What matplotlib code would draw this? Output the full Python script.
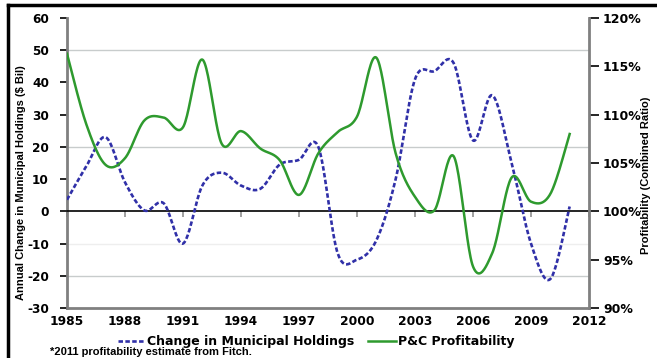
import matplotlib
matplotlib.use('Agg')
import matplotlib.pyplot as plt
import numpy as np
from matplotlib.lines import Line2D

plt.rcParams['font.family'] = ['DejaVu Sans']
plt.rcParams['font.weight'] = 'bold'

# data
years = list(range(1985, 2012))
muni_change = [3.6, 14, 23, 9, 0.3, 2.5, -10, 8, 12, 8, 7, 14.5, 16, 20,
               -13, -15, -9, 10, 41, 43.5, 46, 22, 36, 15, -10, -21, 1.5]
pc_profit = [116.3, 109, 104.8, 105.5, 109.4, 109.7, 108.7, 115.7, 107, 108.3,
             106.5, 105.3, 101.7, 106, 108.2, 109.8, 115.9, 106, 101.5, 100.1,
             105.7, 94.3, 95.7, 103.5, 101, 101.8, 108]
year_ticks = list(range(1985, 2013, 3))
left_ticks = list(range(-30, 61, 10))
right_ticks = list(range(90, 121, 5))
grid_levels = [50, 20, -20]


def smooth(x, y, n=24):
    # catmull-rom, like the excel "smoothed line"
    x = np.asarray(x, float)
    y = np.asarray(y, float)
    px = np.concatenate([[x[0]], x, [x[-1]]])
    py = np.concatenate([[y[0]], y, [y[-1]]])
    t = np.linspace(0, 1, n, endpoint=False)
    xs, ys = [], []
    for i in range(1, len(px) - 2):
        for p, out in ((px, xs), (py, ys)):
            p0, p1, p2, p3 = p[i-1], p[i], p[i+1], p[i+2]
            out.append(0.5 * (2*p1 + (-p0 + p2)*t + (2*p0 - 5*p1 + 4*p2 - p3)*t**2
                              + (-p0 + 3*p1 - 3*p2 + p3)*t**3))
    xs.append([x[-1]])
    ys.append([y[-1]])
    return np.concatenate(xs), np.concatenate(ys)


narrow = {'family': 'Liberation Sans', 'weight': 'bold', 'size': 8}

fig = plt.figure(figsize=(6.57, 3.58), dpi=100)
ax = fig.add_axes([67/657, 1-308/358, (589-67)/657, 290/358])

for g in grid_levels:
    ax.axhline(g, color='#c8cccc', lw=1, zorder=0)
ax.axhline(-10, color='#eeeeee', lw=1, zorder=0)

bx, by = smooth(years, muni_change)
blue, = ax.plot(bx, by, color='#3030a8', lw=1.9, ls=(0, (1.7, 0.9)), zorder=3)

ax.set_xlim(1985, 2012)
ax.set_ylim(-30, 60)
ax.set_yticks(left_ticks)
ax.set_yticklabels([str(v) for v in left_ticks], fontsize=8.7, fontweight='bold')
ax.tick_params(axis='y', length=5, width=1.2, direction='out', pad=8)

ax.spines['top'].set_visible(False)
ax.spines['right'].set_visible(False)
ax.spines['left'].set_color('#808080')
ax.spines['left'].set_linewidth(2)
ax.spines['bottom'].set_position(('data', 0))
ax.spines['bottom'].set_color('black')
ax.spines['bottom'].set_linewidth(1.2)
ax.set_xticks(year_ticks)
ax.tick_params(axis='x', length=4, width=1.2, color='#909090', direction='out',
               labelbottom=False)

sec = ax.secondary_xaxis('bottom')
sec.set_xticks(year_ticks)
sec.set_xticklabels([str(v) for v in year_ticks], fontsize=8.8, fontweight='bold')
sec.tick_params(length=0, pad=5)
sec.spines['bottom'].set_color('#808080')
sec.spines['bottom'].set_linewidth(2)

ax.set_ylabel('Annual Change in Municipal Holdings ($ Bil)', fontdict=narrow)
ax.yaxis.set_label_coords(-0.078, 0.431)

ax2 = ax.twinx()
gx, gy = smooth(years, pc_profit)
green, = ax2.plot(gx, gy, color='#2e9a2e', lw=1.8, zorder=3)
ax2.set_ylim(90, 120)
ax2.set_yticks(right_ticks)
ax2.set_yticklabels(['%d%%' % v for v in right_ticks], fontsize=9, fontweight='bold')
ax2.tick_params(axis='y', length=7, width=1.2, direction='out', pad=3)
ax2.spines['right'].set_color('#808080')
ax2.spines['right'].set_linewidth(2)
ax2.spines['top'].set_visible(False)
ax2.spines['left'].set_visible(False)
ax2.spines['bottom'].set_visible(False)
ax2.set_ylabel('Profitability (Combined Ratio)', fontdict=narrow)
ax2.yaxis.set_label_coords(1.1, 0.459)

fig.legend([blue, green], ['Change in Municipal Holdings', 'P&C Profitability'],
           loc='center', bbox_to_anchor=(316/657, 1-342/358), ncol=2, frameon=False,
           handlelength=2.2, handletextpad=0.15, columnspacing=1.1,
           prop={'size': 9, 'weight': 'bold'})
fig.text(50/657, 1-352/358, '*2011 profitability estimate from Fitch.',
         fontdict=narrow, va='center', ha='left')

# outer frame
fig.add_artist(Line2D([8/657, 8/657], [0, 1-5/358], color='black', lw=2.5))
fig.add_artist(Line2D([8/657, 1], [1-5/358, 1-5/358], color='black', lw=2.5))

fig.savefig('out.png', dpi=100)
